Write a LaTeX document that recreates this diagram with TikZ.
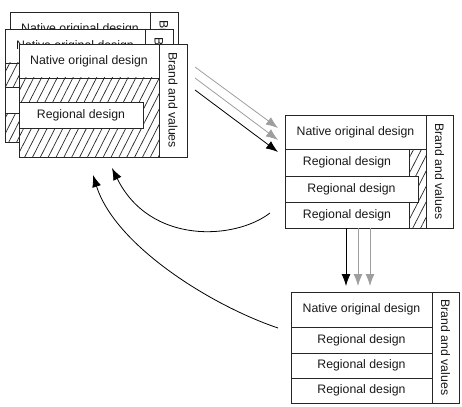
\documentclass[tikz,border=0pt]{standalone}
\usepackage{fontspec}
\setmainfont{Liberation Sans}
\usetikzlibrary{arrows.meta, patterns.meta}

\tikzset{card/.style={draw=black!85, line width=0.8pt, fill=white}}
\tikzset{part/.style={draw=black!85, line width=0.8pt}}
\tikzset{hatch/.style={pattern={Lines[angle=63,distance=7pt,line width=0.7pt]}, pattern color=black!85}}
\tikzset{label/.style={font=\fontsize{12.3}{14}\selectfont, text=black!90, inner sep=0pt}}
\tikzset{blackarrow/.style={line width=0.8pt, black, -{Latex[length=12pt,width=9pt]}}}
\tikzset{grayarrow/.style={line width=0.8pt, black!38, -{Latex[length=12pt,width=9pt]}}}

\begin{document}
\begin{tikzpicture}[x=1pt,y=-1pt]
\useasboundingbox (0,0) rectangle (462,406);

%Stacked Cards (back to front)
\foreach \lx/\ty/\n in {10/12/1, 5/29/2, 19/44/3}{
	\filldraw [card] (\lx,\ty) rectangle (\lx+168,\ty+113);
	\fill [hatch] (\lx,\ty+34) rectangle (\lx+140,\ty+113);
	\draw [part] (\lx,\ty) rectangle (\lx+168,\ty+113);
	\draw [part] (\lx+140,\ty) -- (\lx+140,\ty+113);
	\draw [part] (\lx,\ty+34) -- (\lx+140,\ty+34);
	\node [label] (nat\n) at (\lx+70,\ty+17) {Native original design};
	\node [label, rotate=-90] (brand\n) at (\lx+154,\ty+56) {Brand and values};
	\filldraw [card] (\lx,\ty+58) rectangle (\lx+124,\ty+84);
	\node [label] (reg\n) at (\lx+62,\ty+71) {Regional design};
}

%Middle Card
\filldraw [card] (285,115) rectangle (453,228);
\fill [hatch] (409,149) rectangle (426,228);
\draw [part] (285,115) rectangle (453,228);
\draw [part] (426,115) -- (426,228);
\draw [part] (285,149) -- (426,149);
\node [label] (natM) at (355.5,132) {Native original design};
\node [label, rotate=-90] (brandM) at (439.5,171.5) {Brand and values};
\filldraw [card] (285,149) rectangle (409,176);
\filldraw [card] (285,176) rectangle (418,202);
\filldraw [card] (285,202) rectangle (409,228);
\node [label] (regMa) at (347,162.5) {Regional design};
\node [label] (regMb) at (351.5,189) {Regional design};
\node [label] (regMc) at (347,215) {Regional design};

%Bottom Card
\filldraw [card] (291,292) rectangle (459,403);
\draw [part] (432,292) -- (432,403);
\foreach \y in {327,353,378}
	\draw [part] (291,\y) -- (432,\y);
\node [label] (natB) at (361.5,309.5) {Native original design};
\node [label, rotate=-90] (brandB) at (445.5,347.5) {Brand and values};
\node [label] (regBa) at (361.5,340) {Regional design};
\node [label] (regBb) at (361.5,365.5) {Regional design};
\node [label] (regBc) at (361.5,390.5) {Regional design};

%Arrow Ends
\coordinate (outA) at (195,67);
\coordinate (outB) at (195,78);
\coordinate (outC) at (195,90);
\coordinate (inA) at (278,128);
\coordinate (inB) at (278,140);
\coordinate (inC) at (278,152);
\coordinate (downA) at (346,228);
\coordinate (downB) at (358,228);
\coordinate (downC) at (370,228);
\coordinate (topA) at (346,286);
\coordinate (topB) at (358,286);
\coordinate (topC) at (370,286);
\coordinate (backM) at (270,213);
\coordinate (backB) at (278,328);
\coordinate (tipM) at (112,168);
\coordinate (tipB) at (93,175);

%Arrows
\draw [grayarrow] (outA) -- (inA);
\draw [grayarrow] (outB) -- (inB);
\draw [blackarrow] (outC) -- (inC);
\draw [blackarrow] (downA) -- (topA);
\draw [grayarrow] (downB) -- (topB);
\draw [grayarrow] (downC) -- (topC);
\draw [blackarrow] (backM) .. controls (235,240) and (150,245) .. (tipM);
\draw [blackarrow] (backB) .. controls (210,305) and (115,245) .. (tipB);

\end{tikzpicture}
\end{document}
